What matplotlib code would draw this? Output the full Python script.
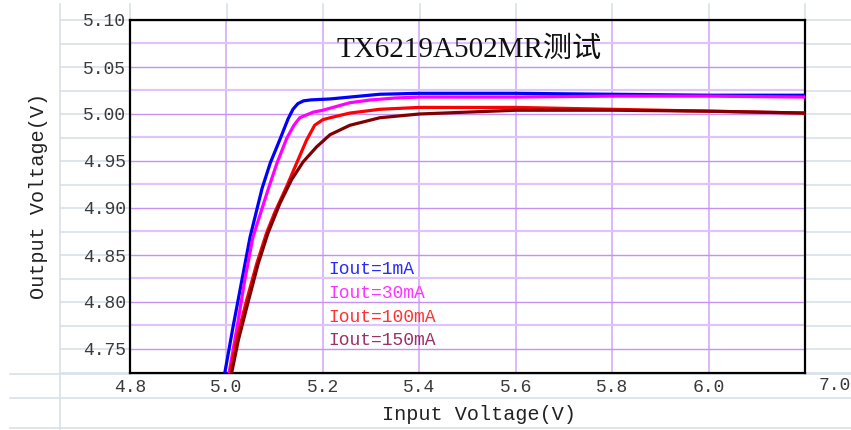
import numpy as np
import matplotlib.pyplot as plt
from matplotlib.ticker import FixedLocator, FormatStrFormatter

# Data (input voltage V, output voltage V)
blue_x = [4.995, 5.0135, 5.032, 5.049, 5.074, 5.091, 5.111, 5.128, 5.138,
          5.148, 5.16, 5.175, 5.215, 5.256, 5.318, 5.4, 5.6, 5.8, 6.0, 6.2]
blue_y = [4.72, 4.773, 4.823, 4.869, 4.921, 4.948, 4.973, 4.995, 5.005,
          5.011, 5.014, 5.015, 5.016, 5.018, 5.021, 5.022, 5.022, 5.021, 5.020, 5.020]

pink_x = [5.004, 5.022, 5.038, 5.055, 5.086, 5.105, 5.125, 5.14, 5.152,
          5.18, 5.2, 5.221, 5.256, 5.3, 5.35, 5.4, 5.6, 5.8, 6.0, 6.2]
pink_y = [4.72, 4.773, 4.823, 4.869, 4.919, 4.948, 4.974, 4.988, 4.996,
          5.002, 5.004, 5.007, 5.012, 5.015, 5.017, 5.018, 5.018, 5.019, 5.019, 5.018]

red_x = [5.006, 5.021, 5.042, 5.063, 5.083, 5.100, 5.125, 5.145, 5.166, 5.183,
         5.200, 5.215, 5.256, 5.318, 5.4, 5.6, 5.8, 6.0, 6.2]
red_y = [4.72, 4.760, 4.802, 4.841, 4.873, 4.895, 4.923, 4.947, 4.972, 4.988,
         4.994, 4.996, 5.001, 5.005, 5.007, 5.007, 5.005, 5.003, 5.001]

dred_x = [5.009, 5.025, 5.046, 5.066, 5.086, 5.111, 5.135, 5.159, 5.187, 5.215,
          5.256, 5.318, 5.4, 5.525, 5.6, 5.8, 6.0, 6.2]
dred_y = [4.72, 4.760, 4.802, 4.841, 4.873, 4.905, 4.930, 4.949, 4.965, 4.978,
          4.988, 4.996, 5.000, 5.0025, 5.004, 5.004, 5.003, 5.001]

series_labels = ["Iout=1mA", "Iout=30mA", "Iout=100mA", "Iout=150mA"]
x_ticks = [4.8, 5.0, 5.2, 5.4, 5.6, 5.8, 6.0]
y_ticks = [4.75, 4.80, 4.85, 4.90, 4.95, 5.00, 5.05, 5.10]
extra_x_label = "7.0"
title = "TX6219A502MR测试"

line_colors = ["#0000ff", "#ff00ff", "#ff0000", "#800000"]
text_colors = ["#2a2aff", "#ff33ff", "#ff3333", "#993366"]
mono = "Liberation Mono"

W, H = 851, 430
fig = plt.figure(figsize=(W / 100, H / 100), dpi=100)

# spreadsheet cell grid behind the chart (pixel coordinates)
bg = fig.add_axes([0, 0, 1, 1], zorder=0)
bg.set_xlim(0, W)
bg.set_ylim(H, 0)
bg.axis("off")
cell = "#d9e0ea"
rows = list(20 + 23.53 * np.arange(16))
for y in rows:
    bg.plot([60, W], [y, y], color=cell, lw=1.2)
for y in [374, 398, 428]:
    bg.plot([10, W], [y, y], color=cell, lw=1.2)
bg.plot([60, 60], [4, H], color=cell, lw=1.2)
for x in [130, 227, 323, 420, 516, 612, 709, 805]:
    bg.plot([x, x], [4, 20], color=cell, lw=1.2)

# chart plot area
L, R, T, B = 130, 805, 20, 373
ax = fig.add_axes([L / W, (H - B) / H, (R - L) / W, (B - T) / H], zorder=1)
ax.set_xlim(4.8, 6.2)
ax.set_ylim(5.10 - (B - T) / 940, 5.10)

for xs, ys, c in zip([blue_x, pink_x, red_x, dred_x],
                     [blue_y, pink_y, red_y, dred_y], line_colors):
    ax.plot(xs, ys, color=c, lw=2.3, solid_capstyle="round",
            solid_joinstyle="round", zorder=3)

ax.xaxis.set_major_locator(FixedLocator(x_ticks))
ax.yaxis.set_major_locator(FixedLocator(y_ticks))
ax.yaxis.set_minor_locator(FixedLocator(np.array(y_ticks) + 0.025))
ax.xaxis.set_major_formatter(FormatStrFormatter("%.1f"))
ax.yaxis.set_major_formatter(FormatStrFormatter("%.2f"))
ax.grid(which="major", axis="y", color="#c690f5", lw=1.0)
ax.grid(which="minor", axis="y", color="#dfc3fb", lw=1.6)
ax.grid(which="major", axis="x", color="#d6acfa", lw=1.2)
ax.set_axisbelow(True)
ax.tick_params(which="both", length=0)
ax.tick_params(axis="x", pad=4, labelsize=13, labelcolor="#3a3a3a")
ax.tick_params(axis="y", pad=3, labelsize=13, labelcolor="#3a3a3a")
for lab in ax.get_xticklabels() + ax.get_yticklabels():
    lab.set_family(mono)
for s in ax.spines.values():
    s.set_color("black")
    s.set_linewidth(1.6)

ax.text(1 + 30 / (R - L), -12 / (B - T), extra_x_label, transform=ax.transAxes,
        ha="center", va="center", fontsize=13, family=mono, color="#3a3a3a",
        clip_on=False)

ax.set_xlabel("Input Voltage(V)", family=mono, fontsize=14.5, color="#222222",
              va="center")
ax.xaxis.set_label_coords((479 - L) / (R - L), (B - 414) / (B - T))
ax.set_ylabel("Output Voltage(V)", family=mono, fontsize=14.5, color="#222222",
              va="center")
ax.yaxis.set_label_coords((38 - L) / (R - L), (B - 196) / (B - T))

ax.text((469 - L) / (R - L), (B - 50) / (B - T), title, transform=ax.transAxes,
        ha="center", va="center", fontsize=21, color="#111111",
        family=["Liberation Serif", "Noto Sans CJK SC"])

for i, (lab, c) in enumerate(zip(series_labels, text_colors)):
    ax.text((328 - L) / (R - L), (B - 270 - 23.5 * i) / (B - T), lab,
            transform=ax.transAxes, ha="left", va="center", fontsize=13,
            family=mono, color=c)

fig.savefig("out.png", dpi=100, facecolor="white")
